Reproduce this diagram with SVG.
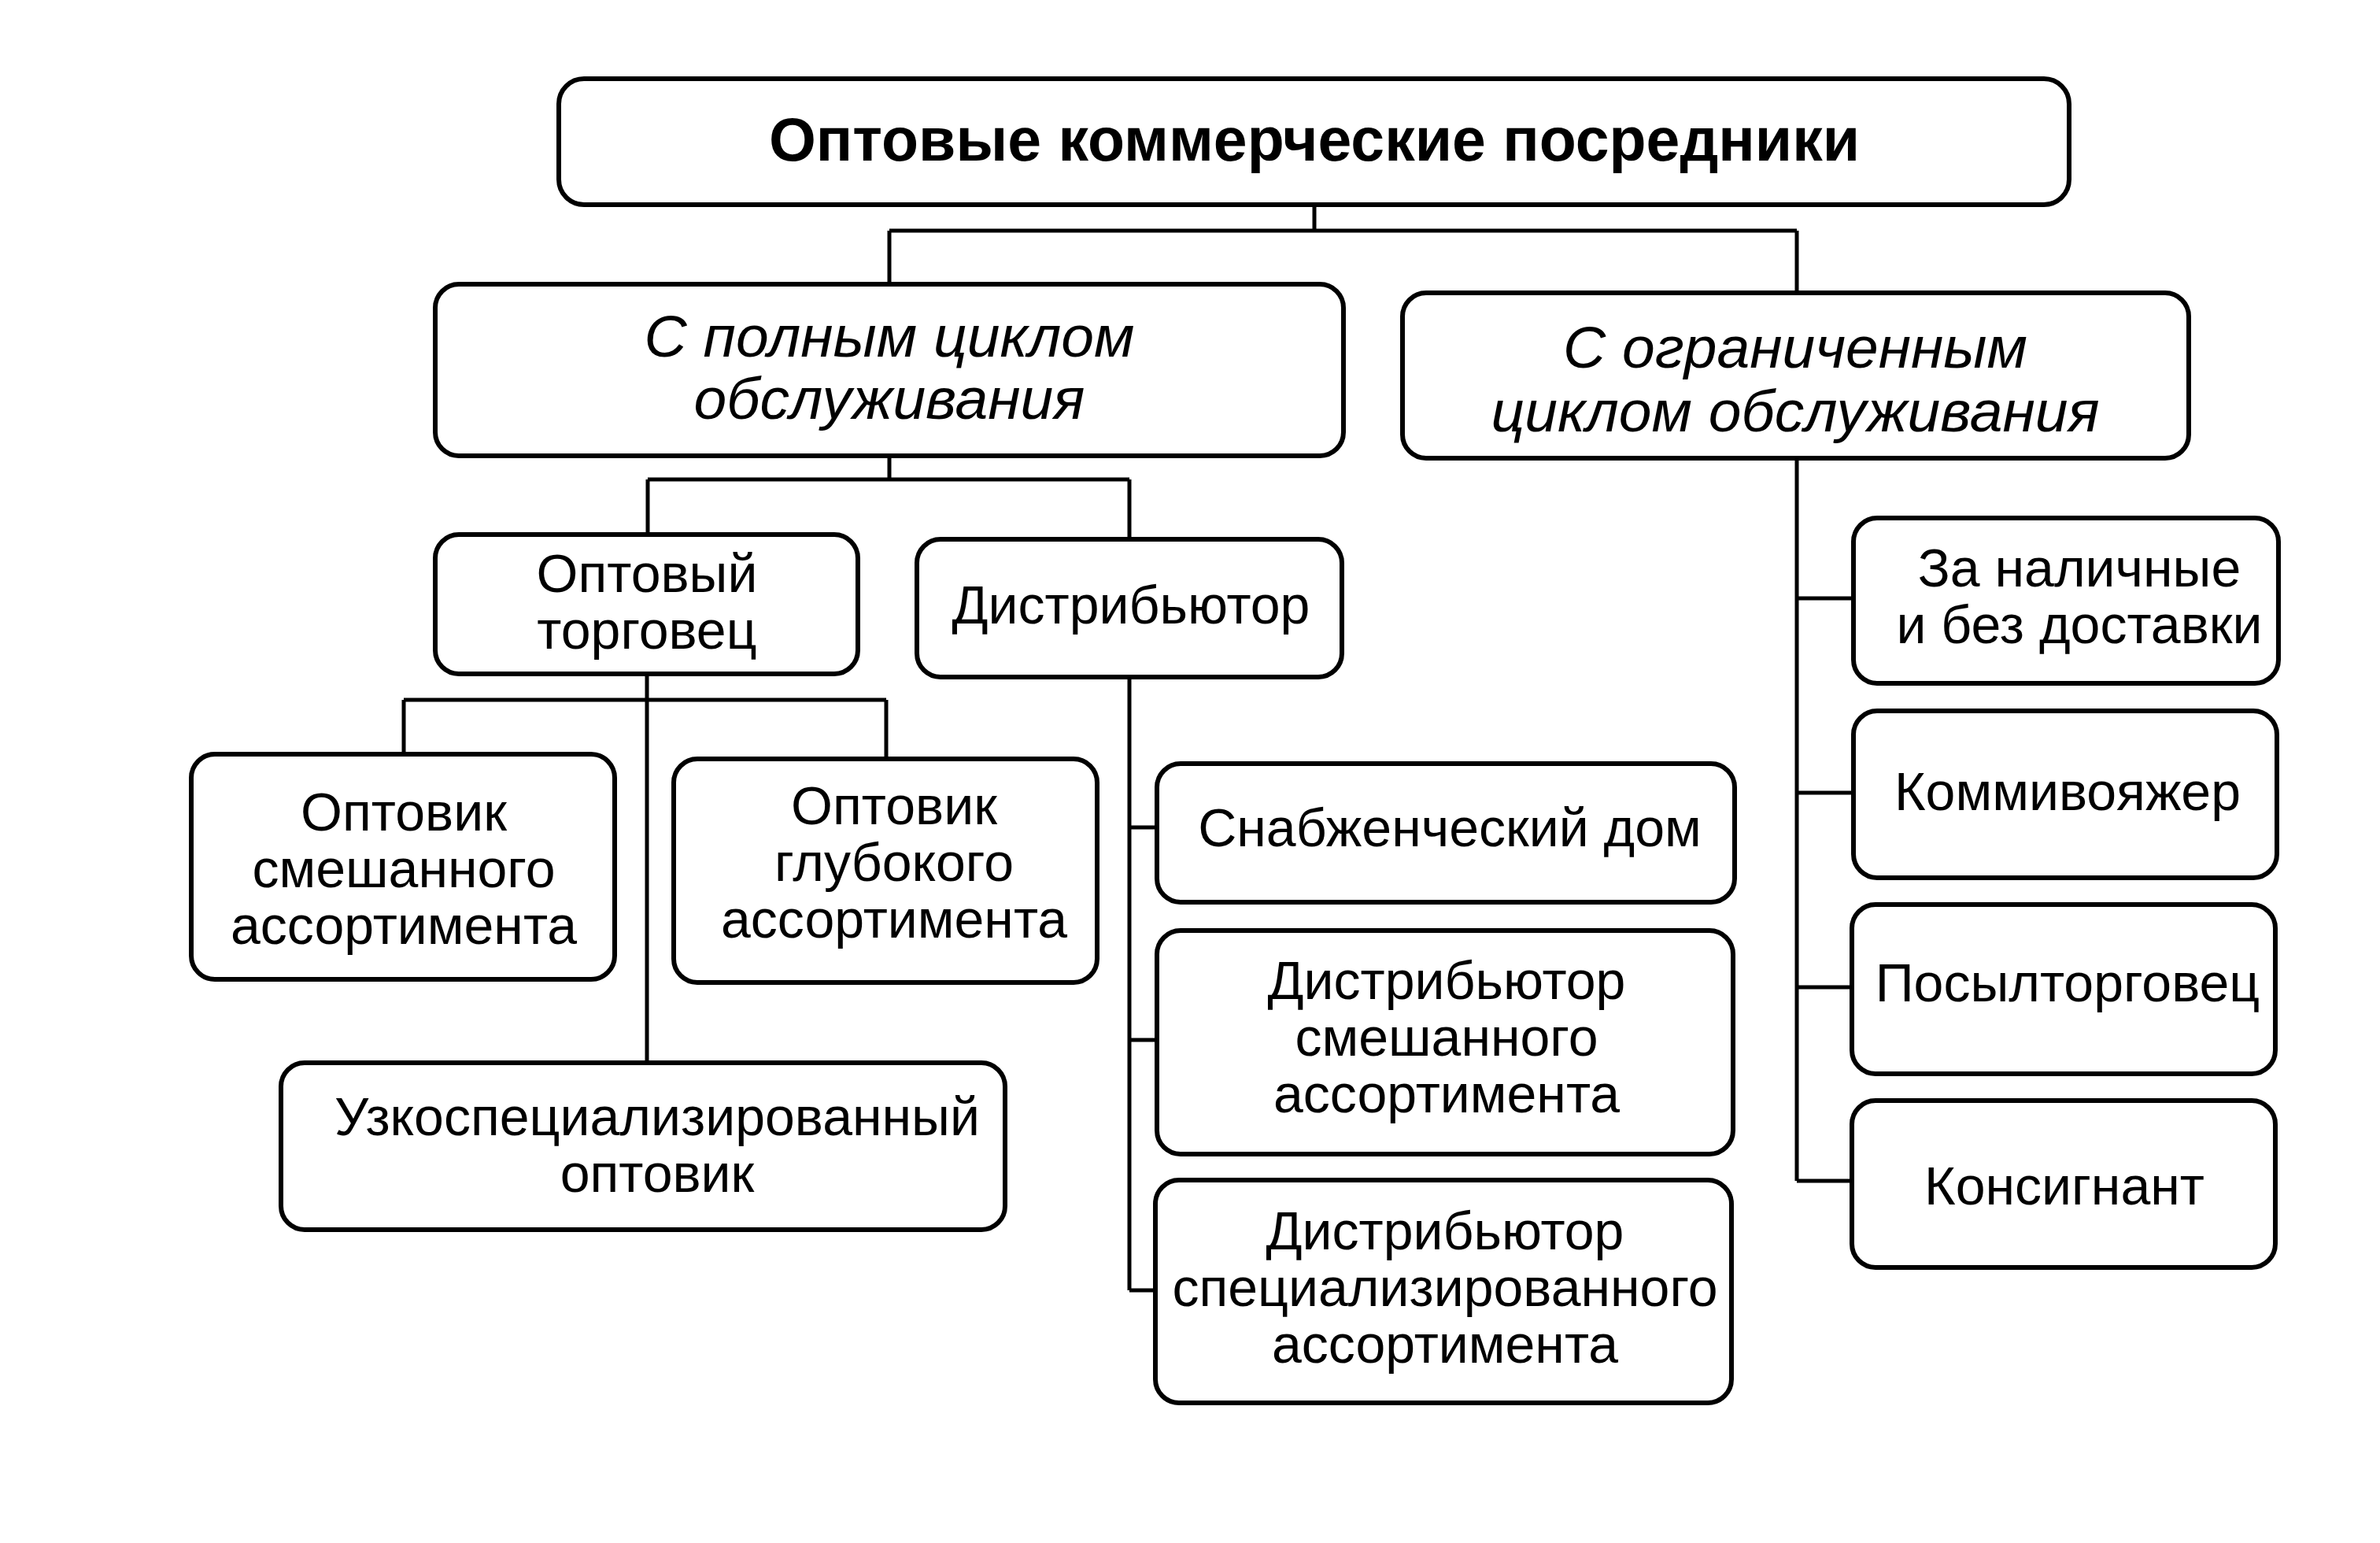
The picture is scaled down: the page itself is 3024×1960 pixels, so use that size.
<svg xmlns="http://www.w3.org/2000/svg" width="3024" height="1960" viewBox="0 0 3024 1960">
<style>
.box{fill:#fff;stroke:#000;stroke-width:6}
.t{font-family:"Liberation Sans",Arial,sans-serif;font-size:68px;text-anchor:middle;fill:#000}
.it{font-family:"Liberation Sans",Arial,sans-serif;font-size:75px;font-style:italic;text-anchor:middle;fill:#000}
.b{font-family:"Liberation Sans",Arial,sans-serif;font-size:77px;font-weight:bold;text-anchor:middle;fill:#000}
.c{fill:none;stroke:#000;stroke-width:5}
</style>
<rect width="3024" height="1960" fill="#fff"/>
<g id="connectors">
<path class="c" d="M1670 260V293M1130 293H2283M1130 293V361M2283 293V372"/>
<path class="c" d="M1130 579V609M823 609H1435M823 609V679M1435 609V685"/>
<path class="c" d="M822 856V1350M513 889H1126M513 889V958M1126 889V964"/>
<path class="c" d="M1435 860V1639M1435 1051H1470M1435 1321H1470M1435 1639H1470"/>
<path class="c" d="M2283 582V1500M2283 760H2355M2283 1007H2355M2283 1254H2355M2283 1500H2355"/>
</g>
<g id="root"><rect class="box" x="710" y="100" width="1919" height="160" rx="32"/><text class="b" x="1670" y="204">Оптовые коммерческие посредники</text></g>
<g id="full"><rect class="box" x="553" y="361" width="1154" height="218" rx="30"/><text class="it" x="1130" y="453">С полным циклом</text><text class="it" x="1130" y="532">обслуживания</text></g>
<g id="limited"><rect class="box" x="1782" y="372" width="999" height="210" rx="30"/><text class="it" x="2281" y="467">С ограниченным</text><text class="it" x="2281" y="548">циклом обслуживания</text></g>
<g id="trader"><rect class="box" x="553" y="679" width="537" height="177" rx="30"/><text class="t" x="822" y="752">Оптовый</text><text class="t" x="822" y="824">торговец</text></g>
<g id="distributor"><rect class="box" x="1165" y="685" width="540" height="175" rx="30"/><text class="t" x="1437" y="792">Дистрибьютор</text></g>
<g id="mixed"><rect class="box" x="243" y="958" width="538" height="286" rx="30"/><text class="t" x="513" y="1055">Оптовик</text><text class="t" x="513" y="1127">смешанного</text><text class="t" x="513" y="1199">ассортимента</text></g>
<g id="deep"><rect class="box" x="856" y="964" width="538" height="284" rx="30"/><text class="t" x="1136" y="1047">Оптовик</text><text class="t" x="1136" y="1119">глубокого</text><text class="t" x="1136" y="1191">ассортимента</text></g>
<g id="narrow"><rect class="box" x="357" y="1350" width="920" height="212" rx="30"/><text class="t" x="835" y="1442">Узкоспециализированный</text><text class="t" x="835" y="1514">оптовик</text></g>
<g id="supply"><rect class="box" x="1470" y="970" width="734" height="176" rx="30"/><text class="t" x="1842" y="1075">Снабженческий дом</text></g>
<g id="dmixed"><rect class="box" x="1470" y="1182" width="732" height="284" rx="30"/><text class="t" x="1838" y="1269">Дистрибьютор</text><text class="t" x="1838" y="1341">смешанного</text><text class="t" x="1838" y="1413">ассортимента</text></g>
<g id="dspec"><rect class="box" x="1468" y="1499" width="732" height="283" rx="30"/><text class="t" x="1836" y="1587">Дистрибьютор</text><text class="t" x="1836" y="1659">специализированного</text><text class="t" x="1836" y="1731">ассортимента</text></g>
<g id="cash"><rect class="box" x="2355" y="658" width="540" height="210" rx="30"/><text class="t" x="2642" y="745">За наличные</text><text class="t" x="2642" y="817">и без доставки</text></g>
<g id="travel"><rect class="box" x="2355" y="903" width="538" height="212" rx="30"/><text class="t" x="2627" y="1029">Коммивояжер</text></g>
<g id="mail"><rect class="box" x="2353" y="1149" width="538" height="215" rx="30"/><text class="t" x="2627" y="1272">Посылторговец</text></g>
<g id="consign"><rect class="box" x="2353" y="1398" width="538" height="212" rx="30"/><text class="t" x="2623" y="1530">Консигнант</text></g>
</svg>
